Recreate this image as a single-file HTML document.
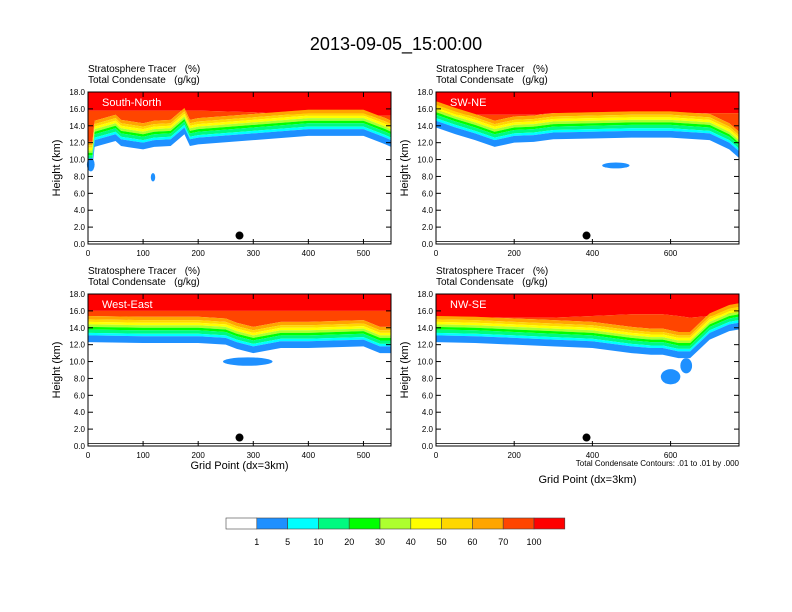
<!DOCTYPE html>
<html><head><meta charset="utf-8"><style>
html,body{margin:0;padding:0;background:#fff}
svg{display:block;font-family:"Liberation Sans",Arial,sans-serif}
text{white-space:pre}
</style></head><body>
<svg id="chart" width="792" height="612" viewBox="0 0 792 612">
<text x="396" y="50" text-anchor="middle" font-size="18">2013-09-05_15:00:00</text>
<g id="panels"></g>
<g id="colorbar"></g>
</svg>
<script>
const levelLabels=["1","5","10","20","30","40","50","60","70","100"];
const levelColors=["#ffffff","#1e90ff","#00ffff","#00fa80","#00ff00","#adff2f","#ffff00","#ffd700","#ffa500","#ff4500","#ff0000"];
const tlX=[0,8,12,50,60,100,120,150,175,185,200,300,400,500,540,550];
const tlBase=[9,9,11.5,12.2,11.6,11.2,11.5,11.6,13,11.6,11.8,12.3,12.8,12.8,11.8,11.5];
const tlRed=[15.8,15.8,15.8,15.8,15.8,15.8,15.8,15.8,15.8,15.8,15.8,15.6,15.2,15.2,15.2,15.2];
const trX=[0,50,100,150,180,200,250,300,400,500,600,700,750,775];
const trBase=[13.8,13,12.3,11.5,11.8,12,12.1,12.4,12.5,12.6,12.6,12.3,11.2,10.2];
const trRed=[15.3,15.3,15.3,15.3,15.3,15.3,15.3,15.5,15.5,15.5,15.5,15.5,15.5,15.5];
const blX=[0,100,200,250,270,300,350,400,500,530,550];
const blBase=[12.3,12.2,12.2,12,11.5,11,11.6,11.6,11.8,11,11];
const blRed=[16,16,16,16,16,16,16,16,16,16,16];
const brX=[0,100,200,300,400,500,550,580,620,650,700,750,775];
const brBase=[12.3,12.2,12,11.8,11.6,11,10.8,10.8,10.4,10.4,12.6,13.6,13.8];
const brRed=[15.2,15.2,15.2,15.2,15.4,15.6,15.6,15.6,15.4,15.2,15.4,15.6,15.6];
const layerOffsets=[0,0.8,1.1,1.5,1.8,2.1,2.4,2.7,3.1];
const yTicks=["0.0","2.0","4.0","6.0","8.0","10.0","12.0","14.0","16.0","18.0"];
const blobs=[[0,118,7.9,4,0.5],[0,5,9.4,7,0.8],[1,460,9.3,35,0.35],[2,290,10.0,45,0.5],[3,600,8.2,25,0.9],[3,640,9.5,15,0.9]];
const panels=[
 {name:"south-north",title:"South-North",x0:88,y0:92,xmax:550,xt:[0,100,200,300,400,500],xs:tlX,base:tlBase,red:tlRed,dot:[275,1],xlabel:false},
 {name:"sw-ne",title:"SW-NE",x0:436,y0:92,xmax:775,xt:[0,200,400,600],xs:trX,base:trBase,red:trRed,dot:[385,1],xlabel:false},
 {name:"west-east",title:"West-East",x0:88,y0:294,xmax:550,xt:[0,100,200,300,400,500],xs:blX,base:blBase,red:blRed,dot:[275,1],xlabel:true},
 {name:"nw-se",title:"NW-SE",x0:436,y0:294,xmax:775,xt:[0,200,400,600],xs:brX,base:brBase,red:brRed,dot:[385,1],xlabel:true,note:true}
];
const W=303,H=152,NS="http://www.w3.org/2000/svg";
function mk(t,a,p){const e=document.createElementNS(NS,t);for(const k in a)e.setAttribute(k,a[k]);p.appendChild(e);return e;}
const root=document.getElementById('panels');
panels.forEach((P,pi)=>{
 const g=mk('g',{},root);
 
 
 const sx=v=>P.x0+v/P.xmax*W, sy=v=>P.y0+H-v/18*H;
 const t1=mk('text',{x:P.x0,y:P.y0-20,'font-size':10},g);t1.textContent="Stratosphere Tracer   (%)";
 
 
 const t2=mk('text',{x:P.x0,y:P.y0-9,'font-size':10},g);t2.textContent="Total Condensate   (g/kg)";
 
 
 const r=mk('polygon',{points:sx(0)+','+sy(18)+' '+sx(P.xmax)+','+sy(18)+' '+P.xs.slice().reverse().map((x,j)=>{const i=P.xs.length-1-j;return sx(x)+','+sy(P.red[i]);}).join(' '),fill:levelColors[10]},g);
 
 
 const n=layerOffsets.length;
 for(let L=n-1;L>=0;L--){
  const top=P.xs.map((x,i)=>sx(x)+','+sy(L===n-1?P.red[i]:P.base[i]+layerOffsets[L+1]));
  const bot=P.xs.map((x,i)=>sx(x)+','+sy(P.base[i]+layerOffsets[L])).reverse();
  const pg=mk('polygon',{points:top.concat(bot).join(' '),fill:levelColors[L+1]},g);
  
  
 }
 blobs.filter(b=>b[0]===pi).forEach(b=>{
  const e=mk('ellipse',{cx:sx(b[1]),cy:sy(b[2]),rx:b[3]/P.xmax*W,ry:b[4]/18*H,fill:levelColors[1]},g);
  
  
 });
 const fr=mk('rect',{x:P.x0,y:P.y0,width:W,height:H,fill:'none',stroke:'#000','stroke-width':1},g);
 
 
 yTicks.forEach(l=>{const v=parseFloat(l);
  mk('line',{x1:P.x0,x2:P.x0+5,y1:sy(v),y2:sy(v),stroke:'#000'},g);
  mk('line',{x1:P.x0+W-5,x2:P.x0+W,y1:sy(v),y2:sy(v),stroke:'#000'},g);
  const t=mk('text',{x:P.x0-3,y:sy(v)+3,'font-size':8,'text-anchor':'end'},g);t.textContent=l;
  
  
 });
 P.xt.forEach(v=>{
  mk('line',{x1:sx(v),x2:sx(v),y1:P.y0+H,y2:P.y0+H-5,stroke:'#000'},g);
  mk('line',{x1:sx(v),x2:sx(v),y1:P.y0,y2:P.y0+5,stroke:'#000'},g);
  const t=mk('text',{x:sx(v),y:P.y0+H+12,'font-size':8,'text-anchor':'middle'},g);t.textContent=v;
  
  
 });
 const yl=mk('text',{transform:`translate(${P.x0-28},${P.y0+H/2}) rotate(-90)`,'font-size':11,'text-anchor':'middle'},g);yl.textContent="Height (km)";
 
 
 const pt=mk('text',{x:P.x0+14,y:P.y0+14,'font-size':11,fill:'#fff'},g);pt.textContent=P.title;
 
 
 const d=mk('circle',{cx:sx(P.dot[0]),cy:sy(P.dot[1]),r:4,fill:'#000'},g);
 
 
 mk('line',{x1:P.x0,x2:P.x0+W,y1:sy(0.3),y2:sy(0.3),stroke:'#000','stroke-width':0.8},g);
 if(P.xlabel){const t=mk('text',{x:P.x0+W/2,y:P.y0+H+(P.note?37:23),'font-size':11,'text-anchor':'middle'},g);t.textContent="Grid Point (dx=3km)";
  
  }
 if(P.note){const t=mk('text',{x:P.x0+W,y:P.y0+H+20,'font-size':8,'text-anchor':'end'},g);t.textContent="Total Condensate Contours: .01 to .01 by .000";
  
  }
});
const cb=document.getElementById('colorbar');
const bx=226,bw=30.8;
levelColors.forEach((c,i)=>{
 const r=mk('rect',{x:bx+i*bw,y:518,width:bw,height:11,fill:c,stroke:'#444','stroke-width':0.6},cb);
 
 
});
levelLabels.forEach((l,i)=>{
 const t=mk('text',{x:bx+(i+1)*bw,y:545,'font-size':9,'text-anchor':'middle'},cb);t.textContent=l;
 
 
});
</script>
</body></html>
